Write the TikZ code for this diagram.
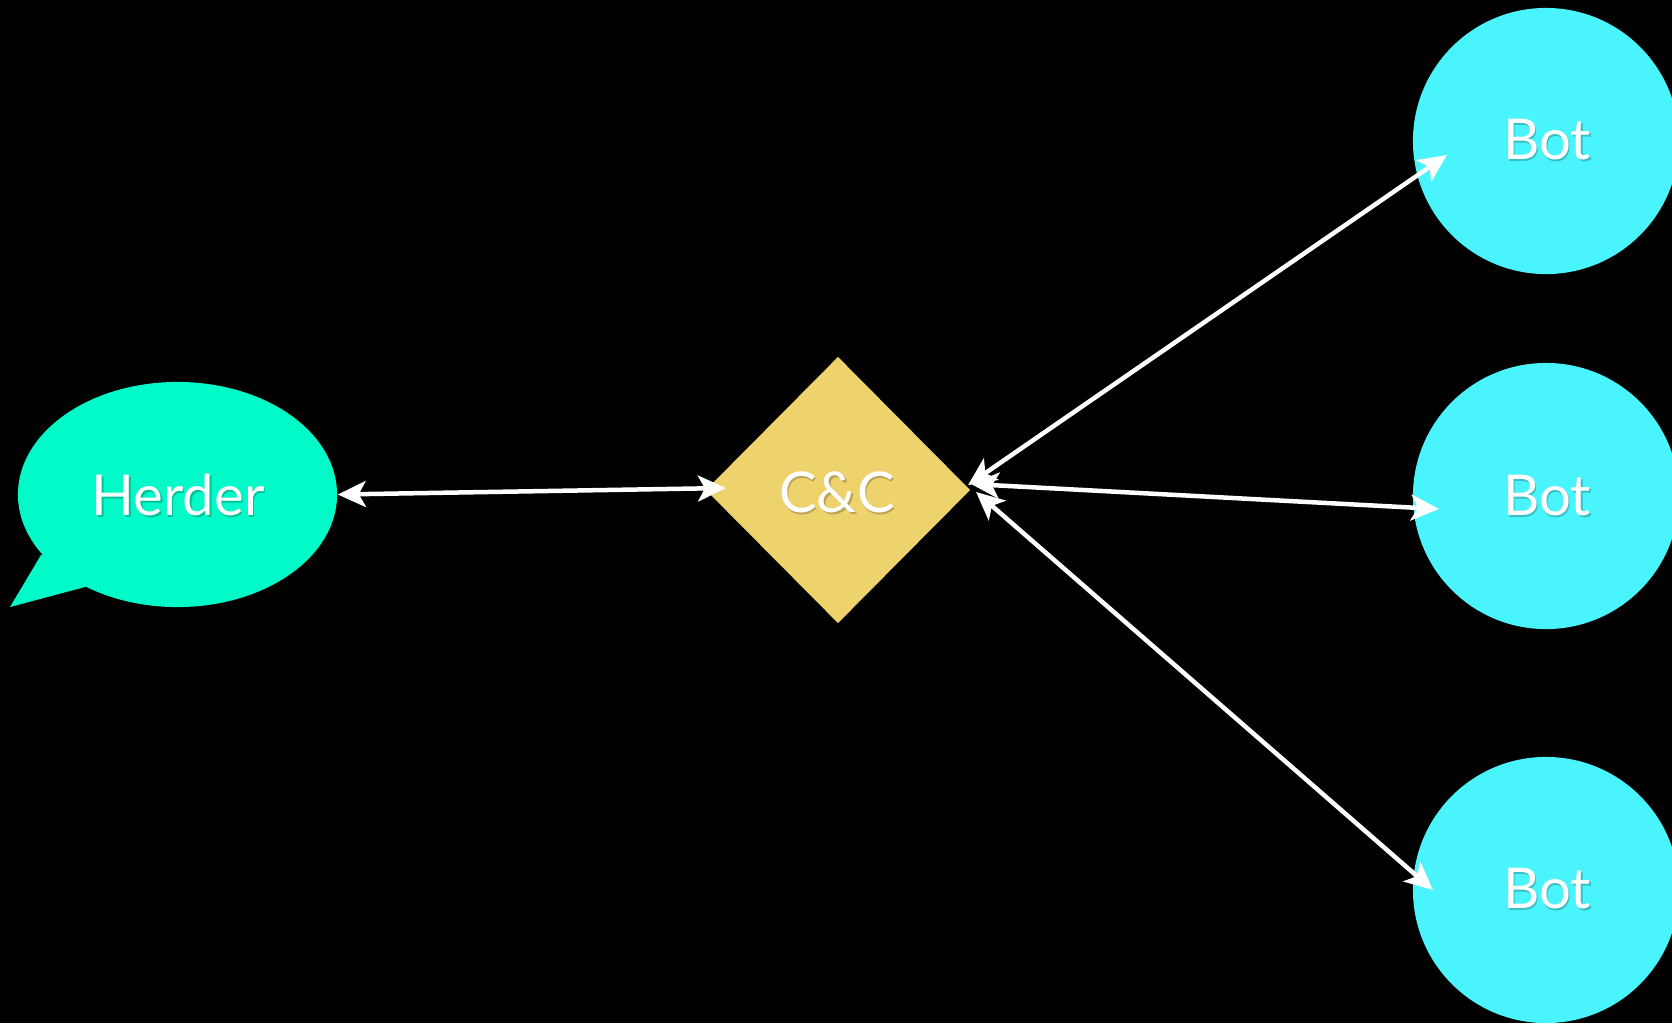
\documentclass[tikz,border=0pt]{standalone}
\usepackage{fontspec}
\setmainfont{Lato}
\usetikzlibrary{shapes.geometric,arrows.meta}
\definecolor{herdercol}{RGB}{0,250,200}
\definecolor{botcol}{RGB}{74,244,252}
\definecolor{cccol}{RGB}{238,210,108}
\begin{document}
\begin{tikzpicture}[x=0.01cm,y=-0.01cm,
  lbl/.style={text=white,font=\fontsize{16}{19}\selectfont,anchor=base,inner sep=0},
  shd/.style={text=black,opacity=0.22,font=\fontsize{16}{19}\selectfont,anchor=base,inner sep=0},
  botnode/.style={circle,fill=botcol,minimum size=2.66cm,inner sep=0},
  conn/.style={draw=white,line width=0.045cm,{Stealth[length=0.28cm,width=0.26cm,inset=0.07cm]}-{Stealth[length=0.28cm,width=0.26cm,inset=0.07cm]}}]
\fill[black] (0,0) rectangle (1672,1023);
\useasboundingbox (0,0) rectangle (1672,1023);
% Herder speech bubble
\node[ellipse,fill=herdercol,minimum width=3.19cm,minimum height=2.25cm,inner sep=0] (herder) at (177.5,494.5) {};
\fill[herdercol] (41,555) -- (10,607) -- (85,587) -- (130,545) -- cycle;
% C&C diamond
\node[diamond,fill=cccol,minimum width=2.64cm,minimum height=2.66cm,inner sep=0,outer sep=0] (cc) at (838,490) {};
% Bots
\node[botnode] (bot1) at (1546,141) {};
\node[botnode] (bot2) at (1546,496) {};
\node[botnode] (bot3) at (1546,890) {};
% labels with soft shadow
\node[shd] at (179.5,517.5) {Herder};
\node[lbl] (herderlbl) at (178,515) {Herder};
\node[shd] at (838.5,514.5) {C\&C};
\node[lbl] (cclbl) at (837,512) {C\&C};
\node[shd] at (1548.5,161.5) {Bot};
\node[lbl] (bot1lbl) at (1547,159) {Bot};
\node[shd] at (1548.5,517.5) {Bot};
\node[lbl] (bot2lbl) at (1547,515) {Bot};
\node[shd] at (1548.5,910.5) {Bot};
\node[lbl] (bot3lbl) at (1547,908) {Bot};
% connectors
\draw[conn] (herder.east) -- ([xshift=0.2cm,yshift=0.02cm]cc.west);
\draw[conn] ([xshift=-0.02cm,yshift=0.05cm]cc.east) -- ([xshift=-0.99cm,yshift=-0.14cm]bot1.center);
\draw[conn] ([xshift=0.01cm,yshift=0.06cm]cc.east) -- ([xshift=-1.07cm,yshift=-0.13cm]bot2.center);
\draw[conn] ([xshift=0.06cm,yshift=-0.02cm]cc.east) -- ([xshift=-1.13cm,yshift=0cm]bot3.center);
\end{tikzpicture}
\end{document}
